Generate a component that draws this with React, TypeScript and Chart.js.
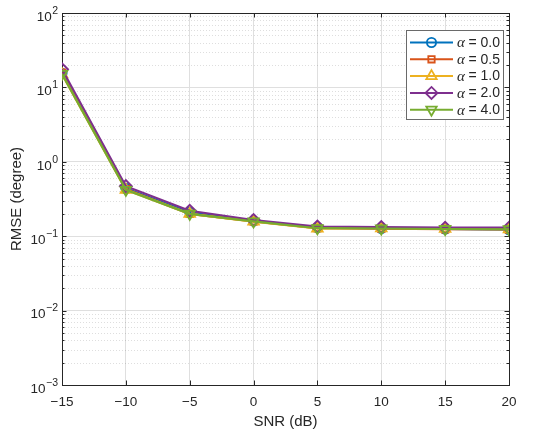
import React, { useEffect, useRef } from 'react';
import { Chart, registerables } from 'chart.js';
import { drawPoint } from 'chart.js/helpers';

Chart.register(...registerables);

const snr = [-15, -10, -5, 0, 5, 10, 15, 20];
const alphaLabels = ['0.0', '0.5', '1.0', '2.0', '4.0'];
const rmseA00 = [15.5, 0.44, 0.21, 0.16, 0.13, 0.127, 0.125, 0.122];
const rmseA05 = [15.8, 0.43, 0.2, 0.158, 0.128, 0.126, 0.124, 0.123];
const rmseA10 = [15.0, 0.42, 0.2, 0.157, 0.127, 0.128, 0.126, 0.124];
const rmseA20 = [17.5, 0.47, 0.22, 0.165, 0.135, 0.133, 0.13, 0.13];
const rmseA40 = [15.2, 0.42, 0.2, 0.158, 0.128, 0.127, 0.125, 0.124];
const seriesValues = [rmseA00, rmseA05, rmseA10, rmseA20, rmseA40];
const xTicks = [-15, -10, -5, 0, 5, 10, 15, 20];
const yExponents = [-3, -2, -1, 0, 1, 2];

const colors = ['#0072BD', '#D95319', '#EDB120', '#7E2F8E', '#77AC30'];
const pointStyles = ['circle', 'rect', 'triangle', 'rectRot', 'triangle'];
const rotations = [0, 0, 0, 0, 180];
const radii = [4.6, 4.5, 6, 6, 6];

const AXIS = '#262626';
const SANS = '"Liberation Sans", Arial, Helvetica, sans-serif';

const fmtMinus = (v: number) => (v < 0 ? '\u2212' + Math.abs(v) : String(v));

const matlabPlugin = {
  id: 'matlabAxes',
  beforeDatasetsDraw(chart: any) {
    const { ctx, chartArea: a, scales } = chart;
    const x = scales.x;
    const y = scales.y;
    ctx.save();
    // minor dotted grid
    ctx.strokeStyle = 'rgba(38,38,38,0.22)';
    ctx.lineWidth = 0.7;
    ctx.setLineDash([1, 2]);
    for (let e = -3; e < 2; e++) {
      for (let m = 2; m <= 9; m++) {
        const py = Math.round(y.getPixelForValue(m * Math.pow(10, e))) + 0.5;
        ctx.beginPath();
        ctx.moveTo(a.left, py);
        ctx.lineTo(a.right, py);
        ctx.stroke();
      }
    }
    ctx.setLineDash([]);
    // ticks (inward)
    ctx.strokeStyle = AXIS;
    ctx.lineWidth = 1;
    ctx.beginPath();
    for (const t of xTicks) {
      const px = Math.round(x.getPixelForValue(t)) + 0.5;
      ctx.moveTo(px, a.bottom);
      ctx.lineTo(px, a.bottom - 4.5);
      ctx.moveTo(px, a.top);
      ctx.lineTo(px, a.top + 4.5);
    }
    for (const e of yExponents) {
      const py = Math.round(y.getPixelForValue(Math.pow(10, e))) + 0.5;
      ctx.moveTo(a.left, py);
      ctx.lineTo(a.left + 4.5, py);
      ctx.moveTo(a.right, py);
      ctx.lineTo(a.right - 4.5, py);
    }
    for (let e = -3; e < 2; e++) {
      for (let m = 2; m <= 9; m++) {
        const py = Math.round(y.getPixelForValue(m * Math.pow(10, e))) + 0.5;
        ctx.moveTo(a.left, py);
        ctx.lineTo(a.left + 2.5, py);
        ctx.moveTo(a.right, py);
        ctx.lineTo(a.right - 2.5, py);
      }
    }
    ctx.stroke();
    // frame
    ctx.strokeRect(Math.round(a.left) + 0.5, Math.round(a.top) + 0.5, Math.round(a.right - a.left), Math.round(a.bottom - a.top));
    ctx.restore();
  },
  afterDraw(chart: any) {
    const { ctx, chartArea: a, scales } = chart;
    const y = scales.y;
    ctx.save();
    // y tick labels 10^e
    ctx.fillStyle = AXIS;
    for (const e of yExponents) {
      const py = y.getPixelForValue(Math.pow(10, e));
      const expText = fmtMinus(e);
      ctx.font = `10.5px ${SANS}`;
      const wE = ctx.measureText(expText).width;
      const right = a.left - 4;
      ctx.textAlign = 'left';
      ctx.textBaseline = 'middle';
      ctx.fillText(expText, right - wE, py - 2);
      ctx.font = `13.5px ${SANS}`;
      ctx.textAlign = 'right';
      ctx.fillText('10', right - wE - 0.5, py + 4);
    }
    // legend
    const bx = 406.5, by = 30.5, bw = 97, bh = 89;
    ctx.fillStyle = '#ffffff';
    ctx.fillRect(bx, by, bw, bh);
    ctx.strokeStyle = '#6a6a6a';
    ctx.lineWidth = 1;
    ctx.strokeRect(bx, by, bw, bh);
    const rowH = 16.8;
    chart.data.datasets.forEach((ds: any, i: number) => {
      const cy = 42.5 + i * rowH;
      ctx.strokeStyle = colors[i];
      ctx.lineWidth = 2;
      ctx.beginPath();
      ctx.moveTo(410, cy);
      ctx.lineTo(453, cy);
      ctx.stroke();
      ctx.fillStyle = 'rgba(0,0,0,0)';
      ctx.lineWidth = 1.8;
      drawPoint(ctx, { pointStyle: pointStyles[i], rotation: rotations[i], radius: radii[i], borderWidth: 1.8 } as any, 431.5, cy);
      ctx.fillStyle = AXIS;
      ctx.textAlign = 'left';
      ctx.textBaseline = 'middle';
      ctx.font = `italic 15px "Liberation Serif", "Times New Roman", serif`;
      ctx.fillText('\u03b1', 457, cy + 1);
      ctx.font = `14px ${SANS}`;
      ctx.fillText('= ' + alphaLabels[i], 468.5, cy + 0.5);
    });
    ctx.restore();
  },
};

export default function App() {
  const ref = useRef<HTMLCanvasElement | null>(null);
  useEffect(() => {
    document.body.style.margin = '0';
    const canvas = ref.current;
    if (!canvas) return;
    const datasets = seriesValues.map((vals, i) => ({
      label: '\u03b1 = ' + alphaLabels[i],
      data: snr.map((s, j) => ({ x: s, y: vals[j] })),
      borderColor: colors[i],
      backgroundColor: colors[i],
      borderWidth: 2.2,
      pointStyle: pointStyles[i],
      rotation: rotations[i],
      pointRadius: radii[i],
      pointBorderWidth: 1.9,
      pointBackgroundColor: 'rgba(0,0,0,0)',
      pointBorderColor: colors[i],
      order: 4 - i,
      tension: 0,
    }));
    const chart = new Chart(canvas, {
      type: 'line',
      data: { datasets },
      plugins: [matlabPlugin],
      options: {
        animation: false,
        responsive: false,
        devicePixelRatio: 1,
        layout: { padding: { top: 13, right: 41, left: 0, bottom: 0 } },
        plugins: { legend: { display: false }, tooltip: { enabled: false } },
        scales: {
          x: {
            type: 'linear',
            min: -15,
            max: 20,
            afterBuildTicks: (s: any) => {
              s.ticks = xTicks.map((v) => ({ value: v }));
            },
            afterFit: (s: any) => {
              s.height = 51;
            },
            grid: { color: '#dfdfdf', lineWidth: 1, drawTicks: false },
            border: { display: true, color: AXIS },
            ticks: {
              color: AXIS,
              font: { family: SANS, size: 13.5 },
              padding: 9,
              maxRotation: 0,
              autoSkip: false,
              callback: (v: any) => fmtMinus(Number(v)),
            },
            title: {
              display: true,
              text: 'SNR (dB)',
              color: AXIS,
              font: { family: SANS, size: 15 },
              padding: { top: 0, bottom: 5 },
            },
          },
          y: {
            type: 'logarithmic',
            min: 1e-3,
            max: 1e2,
            afterBuildTicks: (s: any) => {
              s.ticks = yExponents.map((e) => ({ value: Math.pow(10, e), major: true }));
            },
            afterFit: (s: any) => {
              s.width = 62;
            },
            grid: { color: '#dfdfdf', lineWidth: 1, drawTicks: false },
            border: { display: true, color: AXIS },
            ticks: { display: false },
            title: {
              display: true,
              text: 'RMSE (degree)',
              color: AXIS,
              font: { family: SANS, size: 15 },
              padding: { top: 8, bottom: 0 },
            },
          },
        },
      },
    });
    return () => chart.destroy();
  }, []);
  return (
    <div style={{ width: 550, height: 436, background: '#fff' }}>
      <canvas ref={ref} width={550} height={436} style={{ display: 'block' }} />
    </div>
  );
}
